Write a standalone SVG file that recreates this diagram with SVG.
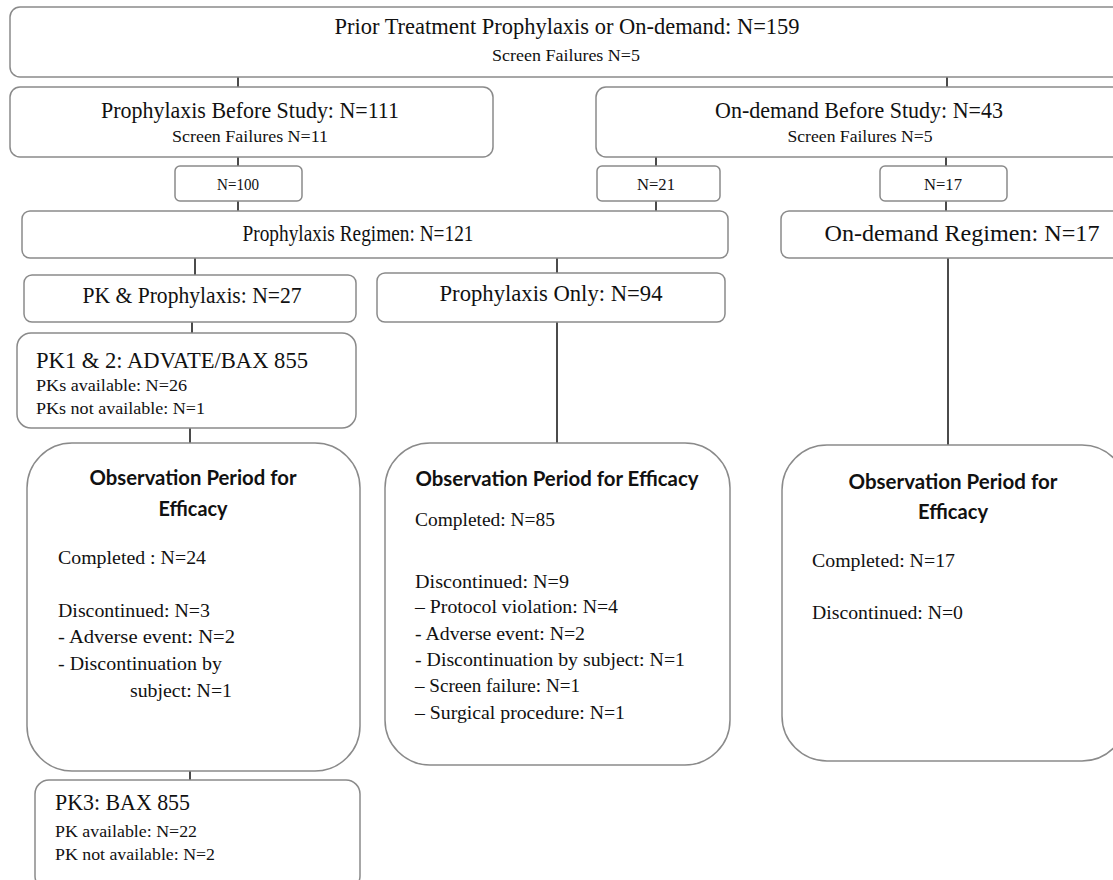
<svg xmlns="http://www.w3.org/2000/svg" width="1113" height="880" viewBox="0 0 1113 880">
<style>
.box{fill:#fff;stroke:#8a8a8a;stroke-width:1.5}
.t{font-family:"Liberation Serif","Times New Roman",serif;fill:#111}
.big{font-size:23px}
.sm{font-size:16.5px}
.nn{font-size:17px}
.md{font-size:19px}
.b{font-family:Lato,"Open Sans",sans-serif;font-weight:700;font-size:20px;fill:#111}
.c{stroke:#111;stroke-width:1.5;fill:none}
</style>
<rect width="1113" height="880" fill="#fff"/>
<g id="connectors">
<path class="c" d="M238 77V87M947 77V87M238 157V166M238 201V211M656 157V166M656 201V211M946 157V166M946 201V211M195 258V275M557 258V273M192 322V333M190 428V443M190 771V780M557 322V443M948 258V445"/>
</g>
<g id="n1"><rect class="box" x="10" y="7" width="1120" height="70" rx="10"/>
<text class="t big" x="567" y="34" text-anchor="middle" textLength="465" lengthAdjust="spacingAndGlyphs">Prior Treatment Prophylaxis or On-demand:  N=159</text>
<text class="t sm" x="566" y="61" text-anchor="middle" textLength="148" lengthAdjust="spacingAndGlyphs">Screen Failures N=5</text></g>
<g id="n2"><rect class="box" x="10" y="87" width="483" height="70" rx="10"/>
<text class="t big" x="250" y="118" text-anchor="middle" textLength="298" lengthAdjust="spacingAndGlyphs">Prophylaxis Before Study: N=111</text>
<text class="t sm" x="250" y="142" text-anchor="middle" textLength="156" lengthAdjust="spacingAndGlyphs">Screen Failures N=11</text></g>
<g id="n3"><rect class="box" x="596" y="87" width="530" height="70" rx="10"/>
<text class="t big" x="859" y="118" text-anchor="middle" textLength="288" lengthAdjust="spacingAndGlyphs">On-demand Before Study: N=43</text>
<text class="t sm" x="860" y="142" text-anchor="middle" textLength="145" lengthAdjust="spacingAndGlyphs">Screen Failures N=5</text></g>
<g id="n4"><rect class="box" x="175" y="166" width="127" height="35" rx="5"/>
<text class="t nn" x="238" y="190" text-anchor="middle" textLength="42" lengthAdjust="spacingAndGlyphs">N=100</text></g>
<g id="n5"><rect class="box" x="597" y="166" width="123" height="35" rx="5"/>
<text class="t nn" x="656" y="190" text-anchor="middle" textLength="38" lengthAdjust="spacingAndGlyphs">N=21</text></g>
<g id="n6"><rect class="box" x="880" y="166" width="127" height="35" rx="5"/>
<text class="t nn" x="943" y="190" text-anchor="middle" textLength="38" lengthAdjust="spacingAndGlyphs">N=17</text></g>
<g id="n7"><rect class="box" x="22" y="211" width="706" height="47" rx="8"/>
<text class="t big" x="358" y="241" text-anchor="middle" textLength="231" lengthAdjust="spacingAndGlyphs">Prophylaxis Regimen: N=121</text></g>
<g id="n8"><rect class="box" x="781" y="211" width="350" height="47" rx="8"/>
<text class="t big" x="962" y="241" text-anchor="middle" textLength="275" lengthAdjust="spacingAndGlyphs">On-demand Regimen: N=17</text></g>
<g id="n9"><rect class="box" x="24" y="275" width="332" height="47" rx="8"/>
<text class="t big" x="192" y="303" text-anchor="middle" textLength="219" lengthAdjust="spacingAndGlyphs">PK &amp; Prophylaxis: N=27</text></g>
<g id="n10"><rect class="box" x="377" y="273" width="348" height="49" rx="8"/>
<text class="t big" x="551" y="301" text-anchor="middle" textLength="223" lengthAdjust="spacingAndGlyphs">Prophylaxis Only: N=94</text></g>
<g id="n11"><rect class="box" x="17" y="333" width="339" height="95" rx="14"/>
<text class="t big" x="36" y="368" textLength="272" lengthAdjust="spacingAndGlyphs">PK1 &amp; 2: ADVATE/BAX 855</text>
<text class="t sm" x="36" y="391" textLength="151" lengthAdjust="spacingAndGlyphs">PKs available: N=26</text>
<text class="t sm" x="36" y="414" textLength="169" lengthAdjust="spacingAndGlyphs">PKs not available: N=1</text></g>
<g id="n12"><rect class="box" x="27" y="443" width="333" height="328" rx="45"/>
<text class="b" x="193" y="485" text-anchor="middle" textLength="207" lengthAdjust="spacingAndGlyphs">Observation Period for</text>
<text class="b" x="193" y="516" text-anchor="middle" textLength="69" lengthAdjust="spacingAndGlyphs">Efficacy</text>
<text class="t md" x="58" y="564" textLength="148" lengthAdjust="spacingAndGlyphs">Completed : N=24</text>
<text class="t md" x="58" y="617" textLength="152" lengthAdjust="spacingAndGlyphs">Discontinued: N=3</text>
<text class="t md" x="58" y="643" textLength="177" lengthAdjust="spacingAndGlyphs">- Adverse event:  N=2</text>
<text class="t md" x="58" y="670" textLength="164" lengthAdjust="spacingAndGlyphs">- Discontinuation by</text>
<text class="t md" x="130" y="697" textLength="102" lengthAdjust="spacingAndGlyphs">subject: N=1</text></g>
<g id="n13"><rect class="box" x="385" y="443" width="345" height="322" rx="45"/>
<text class="b" x="557" y="486" text-anchor="middle" textLength="283" lengthAdjust="spacingAndGlyphs">Observation Period for Efficacy</text>
<text class="t md" x="415" y="526" textLength="140" lengthAdjust="spacingAndGlyphs">Completed: N=85</text>
<text class="t md" x="415" y="588" textLength="154" lengthAdjust="spacingAndGlyphs">Discontinued: N=9</text>
<text class="t md" x="415" y="613" textLength="203" lengthAdjust="spacingAndGlyphs">– Protocol violation: N=4</text>
<text class="t md" x="415" y="640" textLength="170" lengthAdjust="spacingAndGlyphs">- Adverse event: N=2</text>
<text class="t md" x="415" y="666" textLength="270" lengthAdjust="spacingAndGlyphs">- Discontinuation by subject: N=1</text>
<text class="t md" x="415" y="692" textLength="165" lengthAdjust="spacingAndGlyphs">– Screen failure: N=1</text>
<text class="t md" x="415" y="719" textLength="210" lengthAdjust="spacingAndGlyphs">– Surgical procedure: N=1</text></g>
<g id="n14"><rect class="box" x="782" y="445" width="345" height="316" rx="45"/>
<text class="b" x="953" y="489" text-anchor="middle" textLength="209" lengthAdjust="spacingAndGlyphs">Observation Period for</text>
<text class="b" x="953" y="519" text-anchor="middle" textLength="70" lengthAdjust="spacingAndGlyphs">Efficacy</text>
<text class="t md" x="812" y="567" textLength="143" lengthAdjust="spacingAndGlyphs">Completed: N=17</text>
<text class="t md" x="812" y="619" textLength="151" lengthAdjust="spacingAndGlyphs">Discontinued: N=0</text></g>
<g id="n15"><rect class="box" x="35" y="780" width="325" height="110" rx="14"/>
<text class="t big" x="55" y="810" textLength="135" lengthAdjust="spacingAndGlyphs">PK3: BAX 855</text>
<text class="t sm" x="55" y="837" textLength="142" lengthAdjust="spacingAndGlyphs">PK available: N=22</text>
<text class="t sm" x="55" y="860" textLength="160" lengthAdjust="spacingAndGlyphs">PK not available: N=2</text></g>
</svg>
